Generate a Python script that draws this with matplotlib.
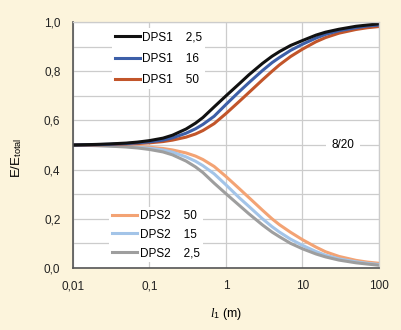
import numpy as np
import matplotlib
matplotlib.use("Agg")
import matplotlib.pyplot as plt

plt.rcParams['font.family'] = ['Liberation Sans', 'DejaVu Sans']
plt.rcParams['mathtext.fontset'] = 'custom'
plt.rcParams['mathtext.rm'] = 'Liberation Sans'
plt.rcParams['mathtext.it'] = 'Liberation Serif:italic'

# distance l1 (m)
l1 = [0.01, 0.02, 0.03, 0.05, 0.07, 0.1, 0.15, 0.2, 0.3, 0.4, 0.5, 0.7, 1,
      1.5, 2, 3, 4, 5, 7, 10, 15, 20, 30, 50, 70, 100]

# E/Etotal, DPS1
dps1_25 = [0.500, 0.5025, 0.5045, 0.508, 0.512, 0.518, 0.528, 0.540, 0.565, 0.589, 0.612, 0.655, 0.700,
           0.750, 0.786, 0.832, 0.861, 0.880, 0.905, 0.925, 0.947, 0.959, 0.971, 0.983, 0.988, 0.993]
dps1_16 = [0.500, 0.5015, 0.503, 0.506, 0.509, 0.513, 0.520, 0.529, 0.548, 0.566, 0.584, 0.617, 0.665,
           0.718, 0.754, 0.803, 0.835, 0.856, 0.885, 0.910, 0.935, 0.950, 0.965, 0.977, 0.984, 0.988]
dps1_50 = [0.500, 0.501, 0.502, 0.504, 0.506, 0.509, 0.514, 0.520, 0.532, 0.545, 0.559, 0.587, 0.628,
           0.678, 0.714, 0.765, 0.800, 0.826, 0.860, 0.890, 0.920, 0.937, 0.955, 0.970, 0.977, 0.982]

# E/Etotal, DPS2
dps2_50 = [0.500, 0.499, 0.498, 0.496, 0.494, 0.491, 0.486, 0.480, 0.468, 0.455, 0.441, 0.413, 0.372,
           0.322, 0.286, 0.235, 0.200, 0.176, 0.145, 0.115, 0.085, 0.066, 0.047, 0.031, 0.024, 0.019]
dps2_15 = [0.500, 0.4985, 0.497, 0.494, 0.491, 0.487, 0.480, 0.471, 0.452, 0.434, 0.416, 0.383, 0.338,
           0.285, 0.250, 0.200, 0.168, 0.146, 0.117, 0.092, 0.067, 0.052, 0.037, 0.025, 0.019, 0.014]
dps2_25 = [0.500, 0.4975, 0.4955, 0.492, 0.488, 0.482, 0.472, 0.460, 0.435, 0.411, 0.388, 0.345, 0.302,
           0.254, 0.220, 0.175, 0.146, 0.127, 0.100, 0.078, 0.057, 0.045, 0.032, 0.021, 0.016, 0.011]

xticks = [0.01, 0.1, 1, 10, 100]
xticklabels = ['0,01', '0,1', '1', '10', '100']
yticks = [0.0, 0.2, 0.4, 0.6, 0.8, 1.0]
yticklabels = ['0,0', '0,2', '0,4', '0,6', '0,8', '1,0']

bg = '#fcf4dc'
fig = plt.figure(figsize=(4.01, 3.30), dpi=100, facecolor=bg)
ax = fig.add_axes([0.182, 0.188, 0.763, 0.745])
ax.set_facecolor('white')

lw = 2.2
d2a, = ax.plot(l1, dps2_50, color='#f3a374', lw=lw, label='DPS2    50')
d2b, = ax.plot(l1, dps2_15, color='#a3c4e8', lw=lw, label='DPS2    15')
d2c, = ax.plot(l1, dps2_25, color='#9e9e9e', lw=lw, label='DPS2    2,5')
d1c, = ax.plot(l1, dps1_50, color='#c2552a', lw=lw, label='DPS1    50')
d1b, = ax.plot(l1, dps1_16, color='#3d5fa8', lw=lw, label='DPS1    16')
d1a, = ax.plot(l1, dps1_25, color='#111111', lw=lw, label='DPS1    2,5')

ax.set_xscale('log')
ax.set_xlim(0.01, 100)
ax.set_ylim(0, 1)
ax.set_xticks(xticks, xticklabels)
ax.set_yticks(yticks, yticklabels)
ax.set_yticks(np.arange(0.1, 1.0, 0.2), minor=True)
ax.xaxis.set_minor_locator(matplotlib.ticker.NullLocator())
ax.tick_params(axis='both', which='both', length=0, labelsize=8.5, colors='#222222')
ax.tick_params(axis='y', pad=9)
ax.tick_params(axis='x', pad=9)
ax.grid(True, which='major', color='#cccccc', lw=0.9)
ax.grid(True, which='minor', axis='y', color='#cccccc', lw=0.9)
ax.set_axisbelow(True)

for s in ['top', 'right']:
    ax.spines[s].set_color('#cccccc')
    ax.spines[s].set_linewidth(0.9)
for s in ['left', 'bottom']:
    ax.spines[s].set_color('#555555')
    ax.spines[s].set_linewidth(1.2)

leg1 = ax.legend(handles=[d1a, d1b, d1c], loc='upper left', bbox_to_anchor=(0.127, 0.975),
                 fontsize=8.5, frameon=True, facecolor='white', edgecolor='none', framealpha=1,
                 fancybox=False, borderpad=0.25, handlelength=2.1, handletextpad=0.2,
                 labelspacing=0.8, borderaxespad=0)
ax.add_artist(leg1)
leg2 = ax.legend(handles=[d2a, d2b, d2c], loc='lower left', bbox_to_anchor=(0.117, 0.024),
                 fontsize=8.5, frameon=True, facecolor='white', edgecolor='none', framealpha=1,
                 fancybox=False, borderpad=0.25, handlelength=2.1, handletextpad=0.3,
                 labelspacing=0.55, borderaxespad=0)

ax.text(33.8, 0.5, '8/20', fontsize=8.5, ha='center', va='center',
        bbox=dict(facecolor='white', edgecolor='none', pad=4))

ax.set_xlabel('$\\mathit{l}_{1}$ (m)', fontsize=9, labelpad=10)
ax.set_ylabel('E/E$_{\\mathrm{total}}$', fontsize=9.5)
ax.yaxis.set_label_coords(-0.16, 0.45)

fig.savefig('out.png', dpi=100, facecolor=bg)
